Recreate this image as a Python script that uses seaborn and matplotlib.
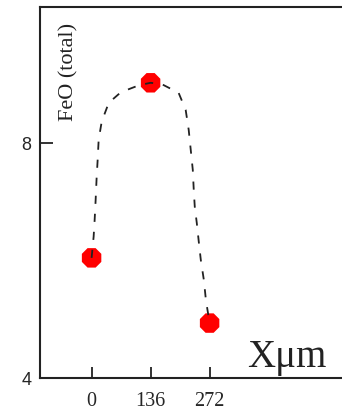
import matplotlib
matplotlib.use("Agg")
import matplotlib.pyplot as plt
import seaborn as sns
import pandas as pd

# Measured points
pos_um = [0, 136, 272]
feo_total = [6.05, 9.03, 4.94]

# Hand-drawn dashed trend curve through the points
curve_x = [0, 4.7, 7, 9.3, 11.7, 14, 16.3, 23.3, 39.6, 67.6, 110, 136, 160.9, 200.5,
           216.8, 223.8, 228.5, 233.2, 235.5, 237.8, 242.5, 247.1, 251.8, 258.8, 263.5, 272]
curve_y = [6.05, 6.41, 6.69, 7.03, 7.43, 7.72, 8.06, 8.37, 8.69, 8.87, 8.99, 9.03, 9.01, 8.86,
           8.57, 8.23, 7.89, 7.55, 7.20, 6.92, 6.64, 6.32, 6.01, 5.67, 5.33, 4.94]

x_ticks = [0, 136, 272]
y_ticks = [4, 8]

sns.set_style("white")

fig = plt.figure(figsize=(3.42, 4.12), dpi=100)
ax = fig.add_axes([40/342, (412-378.3)/412, 1 - 40/342 + 0.01, (378.3-7.3)/412])

pts = pd.DataFrame({"x": pos_um, "y": feo_total})
crv = pd.DataFrame({"x": curve_x, "y": curve_y})

sns.scatterplot(data=pts, x="x", y="y", ax=ax, marker="8", s=230, color="#ff0000",
                edgecolor="none", linewidth=0, zorder=2)
sns.lineplot(data=crv, x="x", y="y", ax=ax, sort=False, estimator=None, color="#222222",
             linewidth=1.3, zorder=3)
ax.lines[-1].set_dashes([4.5, 5.5])

ax.set_xlim(-118.9, 585)
ax.set_ylim(4, 10.315)
ax.set_xticks(x_ticks)
ax.set_yticks(y_ticks)
ax.set_xticklabels([str(v) for v in x_ticks], family="Liberation Serif", fontsize=14.5)
ax.set_yticklabels([str(v) for v in y_ticks], family="Liberation Sans", fontsize=13)
ax.tick_params(axis="x", bottom=True, direction="in", length=8, width=1.3, pad=10, color="#222222")
ax.tick_params(axis="y", left=True, direction="in", length=9, width=1.3, pad=6, color="#222222")
ax.set_xlabel("")
ax.set_ylabel("")

for side in ["left", "bottom", "top"]:
    ax.spines[side].set_visible(True)
    ax.spines[side].set_color("#222222")
    ax.spines[side].set_linewidth(1.5)
ax.spines["right"].set_visible(False)

ax.text(0.093, 0.826, "FeO (total)", transform=ax.transAxes, rotation=90,
        ha="center", va="center", family="Liberation Serif", fontsize=16, color="#222222")
ax.text(0.679, 0.030, "X\u03bcm", transform=ax.transAxes, ha="left", va="baseline",
        family="Liberation Serif", fontsize=28, color="#222222")

fig.savefig("out.png", dpi=100)
